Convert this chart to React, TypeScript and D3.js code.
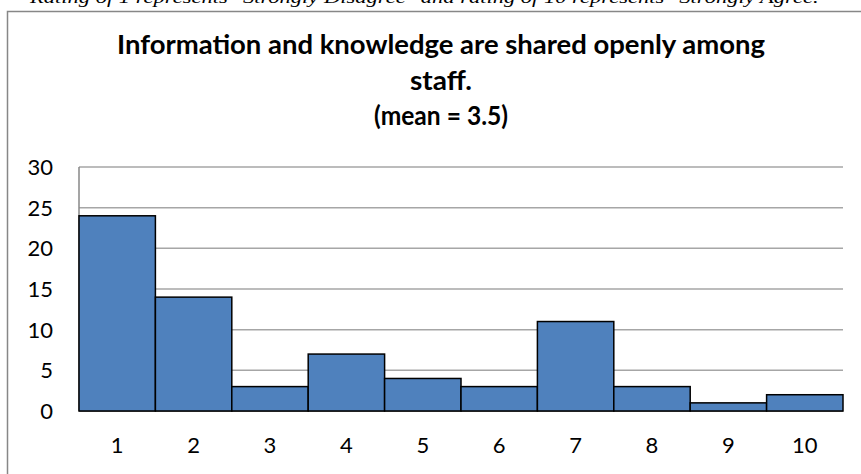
import React from "react";
import * as d3 from "d3";

const ratings = ["1", "2", "3", "4", "5", "6", "7", "8", "9", "10"];
const counts = [24, 14, 3, 7, 4, 3, 11, 3, 1, 2];
const yTicks = [0, 5, 10, 15, 20, 25, 30];
const titleLines = [
  "Information and knowledge are shared openly among",
  "staff.",
  "(mean = 3.5)",
];
const caption =
  'Rating of 1 represents "Strongly Disagree" and rating of 10 represents "Strongly Agree."';

const W = 861;
const H = 474;
const font = "Lato, 'Open Sans', 'DejaVu Sans', sans-serif";

export default function App() {
  const x = d3.scaleBand<string>().domain(ratings).range([79, 843]).padding(0);
  const y = d3.scaleLinear().domain([0, 30]).range([411, 167]);

  return (
    <svg
      width={W}
      height={H}
      style={{ position: "absolute", left: 0, top: 0, background: "#fff" }}
    >
      {/* caption from the page above, cut at the top edge like the source */}
      <text
        x={429}
        y={3}
        textAnchor="middle"
        fontFamily="'Liberation Serif', 'DejaVu Serif', serif"
        fontStyle="italic"
        fontSize={17}
        textLength={798}
        lengthAdjust="spacingAndGlyphs"
        fill="#000"
      >
        {caption}
      </text>

      {/* chart frame */}
      <path d={`M7.5,${H} V11.5 H${W}`} fill="none" stroke="#878787" strokeWidth={1.5} />

      {titleLines.map((t, i) => (
        <text
          key={i}
          x={441}
          y={54 + i * 35.5}
          textAnchor="middle"
          fontFamily={font}
          fontWeight="bold"
          fontSize={26}
          fill="#000"
          textLength={i === 0 ? 648 : i === 1 ? 62 : 134}
          lengthAdjust="spacingAndGlyphs"
        >
          {t}
        </text>
      ))}

      {/* gridlines */}
      {yTicks.map((t) => (
        <line
          key={t}
          x1={79}
          x2={843}
          y1={y(t)}
          y2={y(t)}
          stroke={t === 0 ? "#878787" : "#a6a6a6"}
          strokeWidth={t === 0 ? 2 : 1.5}
        />
      ))}
      <line x1={79} x2={79} y1={y(30)} y2={y(0)} stroke="#878787" strokeWidth={1.5} />

      {/* bars */}
      {counts.map((c, i) => (
        <rect
          key={ratings[i]}
          x={x(ratings[i])!}
          y={y(c)}
          width={x.bandwidth()}
          height={y(0) - y(c)}
          fill="#4f81bd"
          stroke="#000"
          strokeWidth={1.5}
        />
      ))}

      {/* y labels */}
      {yTicks.map((t) => (
        <text
          key={t}
          x={53}
          y={y(t) + 8}
          textAnchor="end"
          fontFamily={font}
          fontSize={22}
          fill="#000"
        >
          {t}
        </text>
      ))}

      {/* x labels */}
      {ratings.map((r) => (
        <text
          key={r}
          x={x(r)! + x.bandwidth() / 2}
          y={453}
          textAnchor="middle"
          fontFamily={font}
          fontSize={22}
          fill="#000"
        >
          {r}
        </text>
      ))}
    </svg>
  );
}
